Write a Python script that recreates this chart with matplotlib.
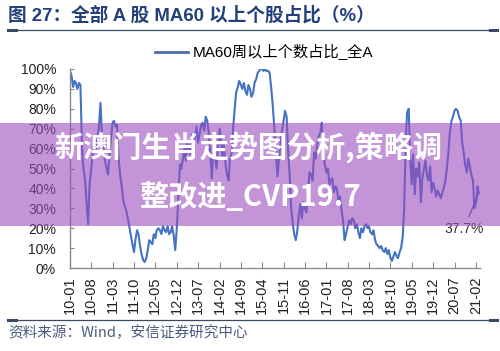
import matplotlib
matplotlib.use("Agg")
import matplotlib.pyplot as plt
import matplotlib.dates as mdates
from matplotlib.lines import Line2D
from matplotlib.patches import Rectangle
from matplotlib.ticker import FuncFormatter
import pandas as pd

# ---------------- data (semi-monthly readings, % of stocks above MA60) ----------------
start_date = "2010-01-01"
values = [
    99, 97, 91, 94, 93, 90, 93, 92, 60, 50, 44, 33, 22, 42, 50, 58, 62, 60, 66, 70,
    83, 67, 61, 54, 50, 47, 58, 66, 73, 74, 71, 72, 55, 47, 41, 34, 31, 29, 25, 21,
    16, 12, 8, 14, 19, 17, 11, 7, 4, 3, 5, 9, 14, 13, 12, 17, 15, 19, 20, 19,
    17, 21, 19, 18, 21, 17, 18, 21, 16, 9, 20, 35, 52, 50, 55, 60, 54, 63, 60, 57,
    67, 62, 66, 71, 63, 67, 72, 73, 69, 76, 74, 68, 57, 45, 62, 56, 50, 60, 70, 64,
    55, 62, 52, 47, 44, 55, 58, 70, 80, 88, 91, 94, 92, 90, 93, 89, 87, 92, 90, 86,
    88, 93, 95, 98, 99, 100, 100, 99, 100, 99, 99, 98, 90, 82, 70, 58, 46, 54, 63, 69,
    74, 79, 76, 60, 46, 30, 22, 17, 14, 18, 27, 32, 25, 33, 30, 28, 38, 48, 47, 44,
    58, 55, 62, 66, 68, 73, 60, 52, 48, 50, 42, 44, 45, 38, 41, 40, 33, 36, 29, 24,
    14, 17, 21, 24, 22, 25, 24, 20, 22, 18, 15, 20, 18, 21, 22, 20, 21, 18, 17, 19,
    14, 12, 11, 10, 11, 9, 8, 10, 7, 9, 5, 3.5, 6, 8, 6, 5, 8, 10, 16, 30,
    60, 78, 80, 56, 42, 57, 37, 50, 46, 53, 33, 45, 50, 54, 46, 44, 51, 38, 43, 40,
    36, 39, 37, 35, 38, 40, 44, 50, 58, 68, 74, 76, 79, 80, 79, 76, 74, 63, 58, 52,
    48, 55, 51, 47, 44, 30, 33, 41, 37.7,
]
dates = pd.date_range(start_date, periods=len(values), freq="SMS")

tick_dates = pd.date_range("2010-01-01", "2021-02-01", freq="7MS")
y_ticks = list(range(0, 101, 10))

title_text = "图 27：全部 A 股 MA60 以上个股占比（%）"
legend_label = "MA60周以上个数占比_全A"
source_text = "资料来源：Wind，安信证券研究中心"
last_label = "37.7%"
banner_line1 = "新澳门生肖走势图分析,策略调"
banner_line2 = "整改进_CVP19.7"

# ---------------- styling ----------------
W, H = 500, 351
LAT = ["Liberation Sans", "Noto Sans CJK SC", "DejaVu Sans"]
CJK = ["Noto Sans CJK SC", "DejaVu Sans"]
plt.rcParams["font.family"] = LAT

series_color = "#4472C4"
title_color = "#23407a"
spine_color = "#8a8a8a"

fig = plt.figure(figsize=(W / 100, H / 100), dpi=100)
ax = fig.add_axes([70 / W, 1 - 268 / H, 410 / W, 199 / H])

line, = ax.plot(dates, values, color=series_color, lw=1.5, solid_joinstyle="round")

ax.set_xlim(pd.Timestamp("2010-01-01"), pd.Timestamp("2021-03-12"))
ax.set_ylim(0, 100)
ax.set_yticks(y_ticks)
ax.yaxis.set_major_formatter(FuncFormatter(lambda v, p: f"{int(v)}%"))
ax.set_xticks(tick_dates)
ax.xaxis.set_major_formatter(mdates.DateFormatter("%y-%m"))

for s in ["top", "right"]:
    ax.spines[s].set_visible(False)
for s in ["left", "bottom"]:
    ax.spines[s].set_color(spine_color)
    ax.spines[s].set_linewidth(1.0)

ax.tick_params(axis="y", direction="in", length=3, color=spine_color, pad=10,
               labelsize=10, labelcolor="#222222")
ax.tick_params(axis="x", direction="in", length=4, color=spine_color, pad=6,
               labelsize=10.5, labelcolor="#222222", labelrotation=90)
for lab in ax.get_xticklabels():
    lab.set_va("top")

# last-value annotation
ax.annotate(last_label, xy=(dates[-1], values[-1]), xytext=(-11, -26),
            textcoords="offset points", ha="center", va="center",
            fontsize=10, color="#333333",
            arrowprops=dict(arrowstyle="-", color="#5a4a80", lw=0.9,
                            shrinkA=2, shrinkB=1))

# legend
fig.legend([Line2D([0], [0], color="#4a6fa8", lw=2)], [legend_label],
           loc="center", bbox_to_anchor=(264 / W, 1 - 52 / H), frameon=False,
           handlelength=2.2, handletextpad=0.3,
           prop={"family": LAT, "size": 11})

# title & rules
fig.text(8 / W, 1 - 15 / H, title_text, fontsize=13.4, fontweight="bold",
         color=title_color, ha="left", va="center", family=LAT)
for yy in (30, 320):
    fig.add_artist(Line2D([8 / W, 497 / W], [1 - yy / H] * 2, transform=fig.transFigure,
                          color="#3a4a66", lw=0.9))
    fig.add_artist(Line2D([8 / W, 16 / W], [1 - yy / H] * 2, transform=fig.transFigure,
                          color="#3a4a66", lw=2.2))
    fig.add_artist(Line2D([490 / W, 497 / W], [1 - yy / H] * 2, transform=fig.transFigure,
                          color="#3a4a66", lw=2.2))

fig.text(8 / W, 1 - 333 / H, source_text, fontsize=10.5, style="italic",
         color="#4a5a80", ha="left", va="center", family=CJK)

# overlay banner
fig.add_artist(Rectangle((0, 1 - 226 / H), 1, 103 / H, transform=fig.transFigure,
                         facecolor="#9b4dbf", alpha=0.6, edgecolor="none", zorder=5))
fig.text(0.497, 1 - 147 / H, banner_line1, fontsize=21, fontweight="bold",
         color="white", ha="center", va="center", family=CJK, zorder=6)
fig.text(0.5, 1 - 197 / H, banner_line2, fontsize=21, fontweight="bold",
         color="white", ha="center", va="center", family=CJK, zorder=6)

fig.savefig("out.png", dpi=100)
